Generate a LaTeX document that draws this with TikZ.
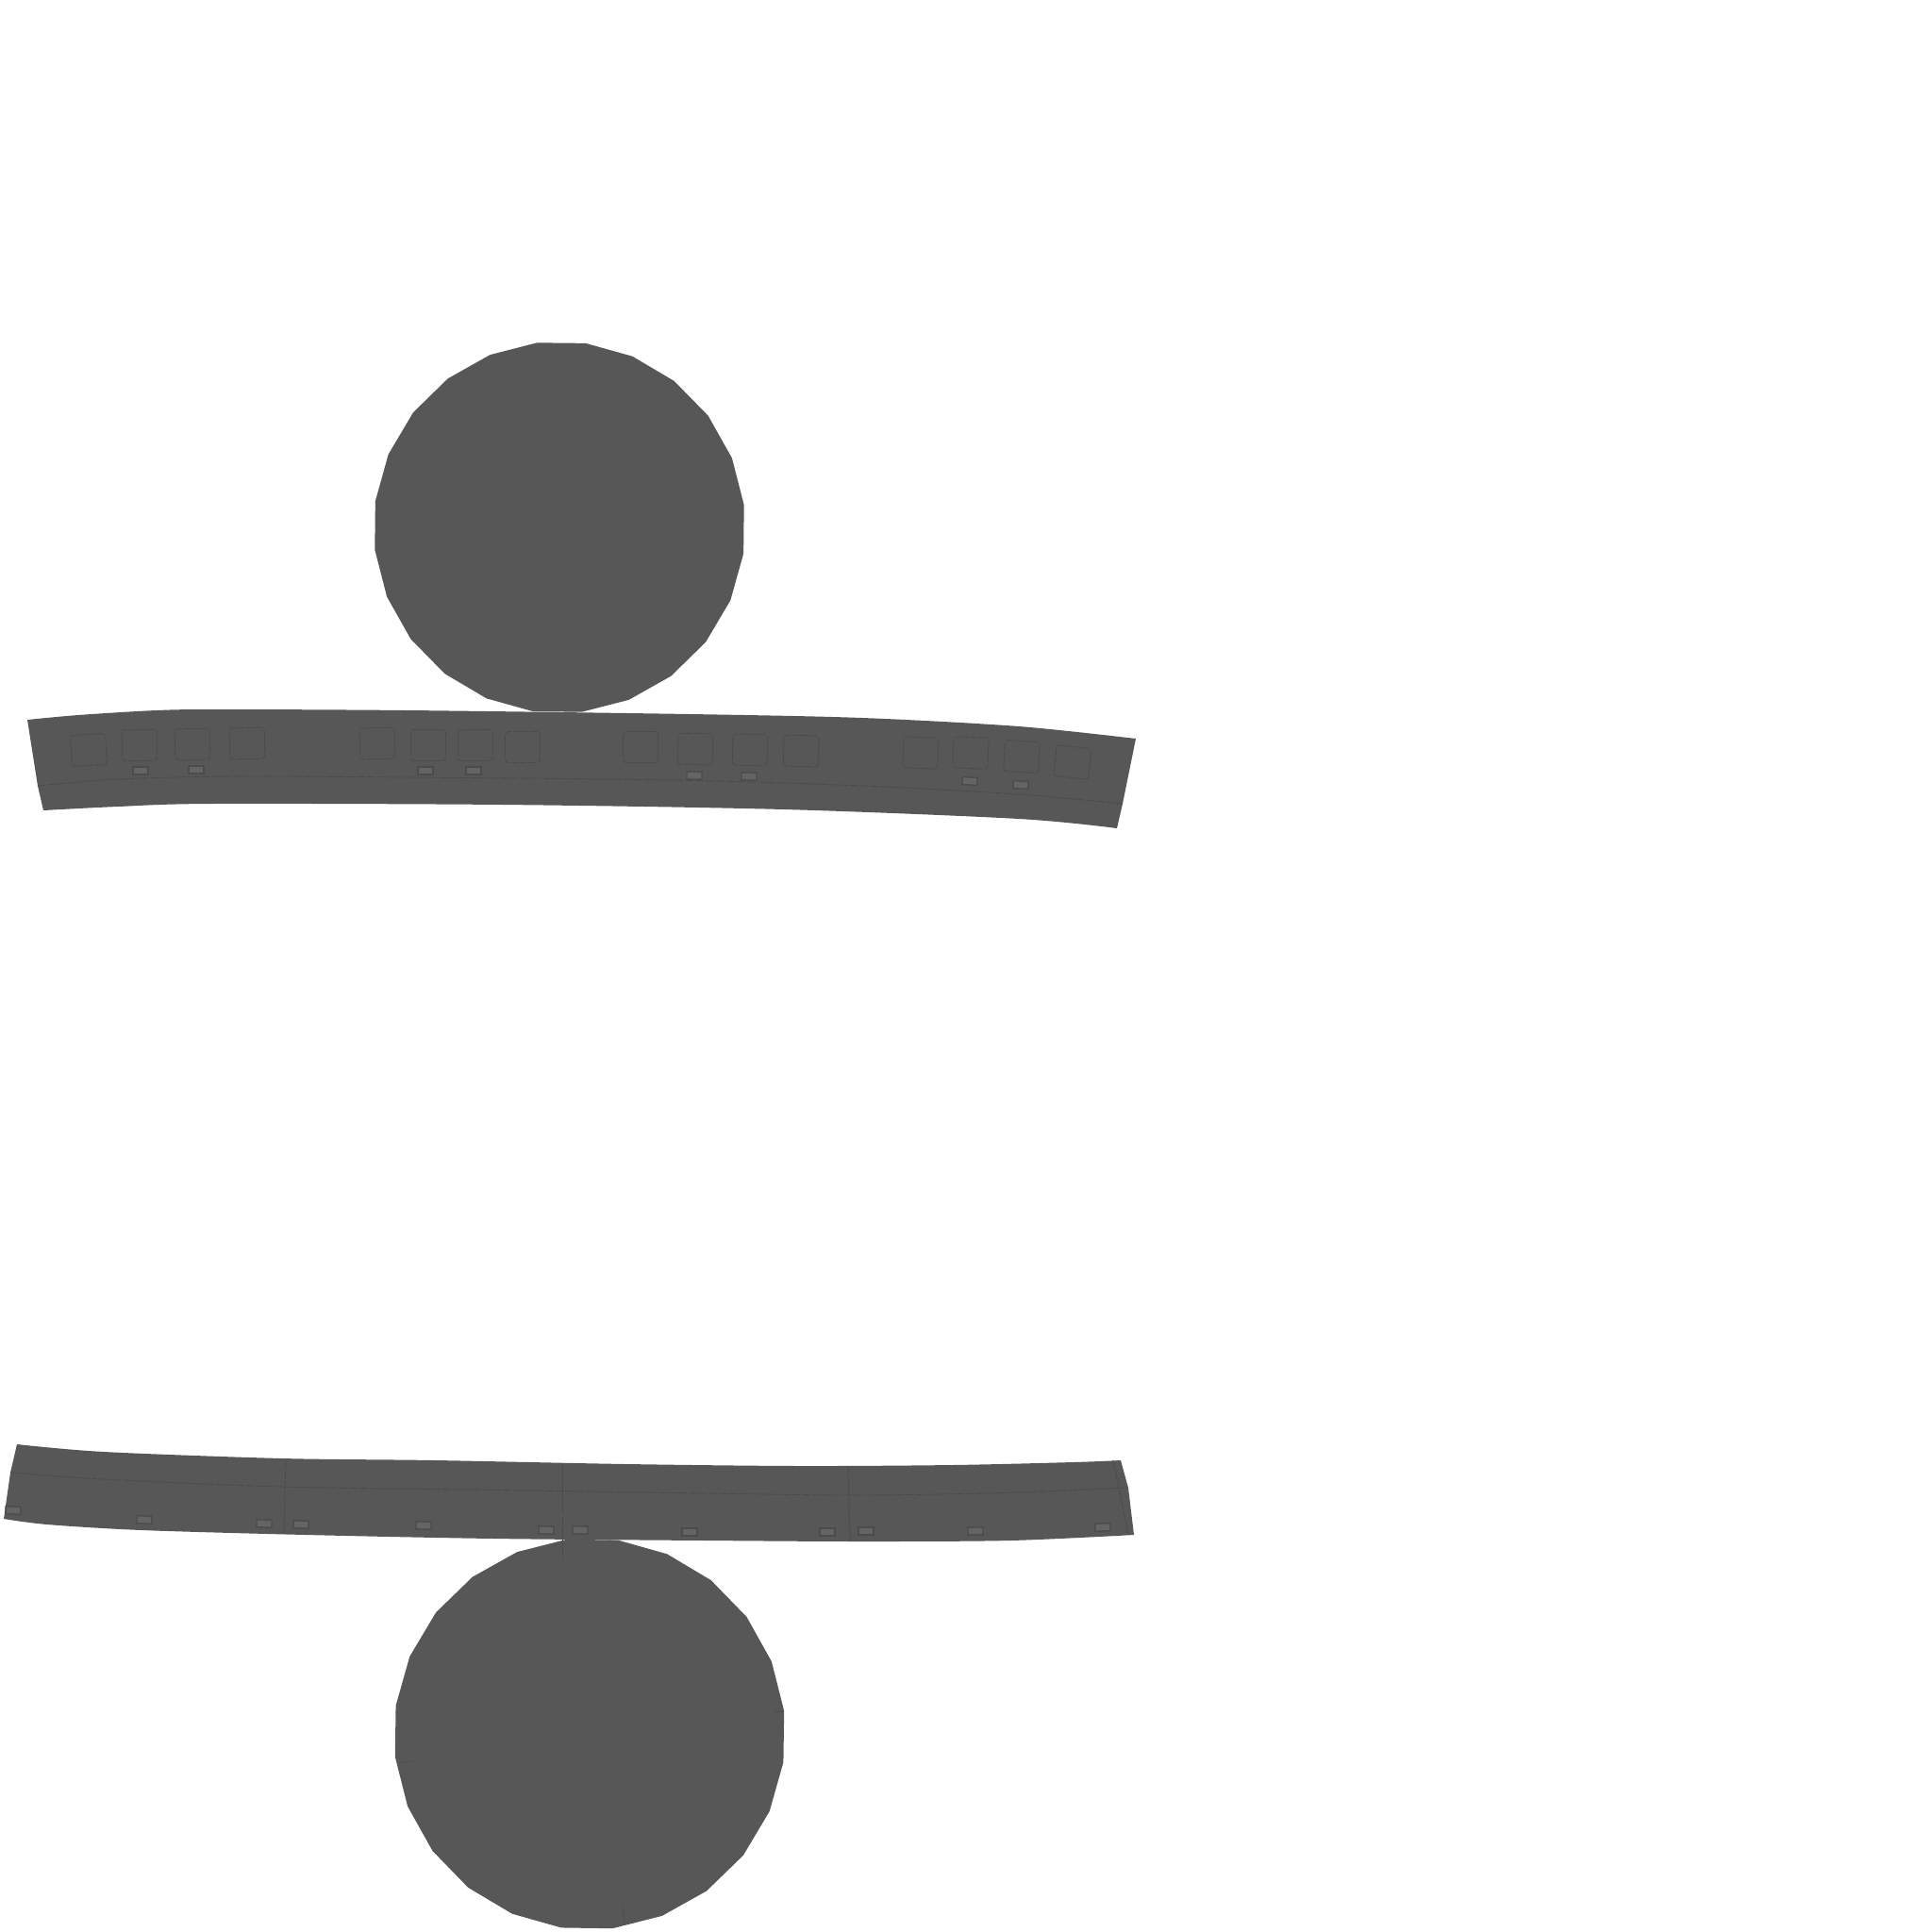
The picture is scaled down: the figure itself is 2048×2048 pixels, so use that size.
\documentclass[tikz,border=0pt]{standalone}
\usepackage{tikz}
\usetikzlibrary{shapes.geometric}
\definecolor{bodygray}{HTML}{575757}
\definecolor{seamgray}{HTML}{4B4B4B}
\definecolor{padgray}{HTML}{646464}
\tikzset{
  wheel/.style={regular polygon,regular polygon sides=24,fill=bodygray,inner sep=0pt,outer sep=0pt},
  band/.style={fill=bodygray},
  seam/.style={draw=seamgray,line width=0.25pt,dash pattern=on 2.5pt off 0.6pt},
  padbox/.style={draw=seamgray,line width=0.25pt,dash pattern=on 2pt off 0.5pt,rounded corners=1pt,minimum width=0.37cm,minimum height=0.33cm,inner sep=0pt},
  padsmall/.style={fill=padgray,draw=seamgray,line width=0.4pt,minimum width=0.16cm,minimum height=0.08cm,inner sep=0pt}
}
\begin{document}
\begin{tikzpicture}[x=0.01cm,y=-0.01cm]
\useasboundingbox (0,0) rectangle (2048,2048);
\node[wheel,minimum size=3.94cm,shape border rotate=-0.6] (wheelTop) at (593,559) {};
\node[wheel,minimum size=4.15cm,shape border rotate=-0.8] (wheelBot) at (625,1838) {};
\fill[band] plot[smooth,tension=0.5] coordinates {(29,763) (83,758) (166,753) (233,752) (432,753) (731,757) (914,761) (1080,770) (1204,783)} -- (1190,852) -- plot[smooth,tension=0.5] coordinates {(1184,878) (1080,868) (831,858) (532,853) (224,852) (125,855) (46,859)} -- (40,833) -- cycle;
\draw[seam] plot[smooth,tension=0.5] coordinates {(40,833) (125,826) (249,823) (432,824) (714,827) (914,833) (1080,842) (1190,852)};
\foreach \x/\y/\r [count=\i] in {94/795/3,148/790/1,204/789/1,262/788/1,400/788/1,454/790/0,504/790/0,554/792/0,679/792/0,737/794/-1,795/795/-1,849/796/-1,976/798/-2,1029/798/-2,1083/802/-4,1137/808/-6}
  \node[padbox,rotate=\r] (pad\i) at (\x,\y) {};
\foreach \x/\y/\r [count=\i] in {149/817/0,208/816/0,451/817/0,502/817/0,736/822/-1,794/823/-1,1028/828/-3,1082/832/-3}
  \node[padsmall,rotate=\r] (lug\i) at (\x,\y) {};
\fill[band] plot[smooth,tension=0.5] coordinates {(18,1531) (110,1539) (299,1546) (461,1548) (664,1552) (847,1554) (1009,1553) (1138,1550) (1188,1548)} -- (1196,1577) -- plot[smooth,tension=0.5] coordinates {(1202,1627) (1071,1633) (914,1634) (748,1633) (523,1631) (324,1627) (150,1622) (50,1616) (4,1610)} -- (11,1561) -- cycle;
\draw[seam] plot[smooth,tension=0.5] coordinates {(11,1561) (108,1568) (299,1576) (498,1579) (748,1583) (914,1585) (1080,1582) (1192,1577)};
\draw[seam] (303,1548) -- (301,1626);
\draw[seam] (596,1553) -- (596,1655);
\draw[seam] (899,1555) -- (901,1633);
\draw[seam] (1180,1548) -- (1196,1626);
\foreach \x/\y/\r [count=\i] in {14/1601/-3,153/1611/-3,280/1615/-2,319/1616/-2,449/1617/-1,579/1622/-1,615/1622/-1,731/1624/0,877/1624/0,918/1623/0,1034/1623/1,1169/1619/2}
  \node[padsmall,rotate=\r] (foot\i) at (\x,\y) {};
\draw[seam] (425,1868) -- (438,1867);
\draw[seam] (821,1814) -- (830,1814);
\draw[seam] (660,2022) -- (662,2037);
\end{tikzpicture}
\end{document}
